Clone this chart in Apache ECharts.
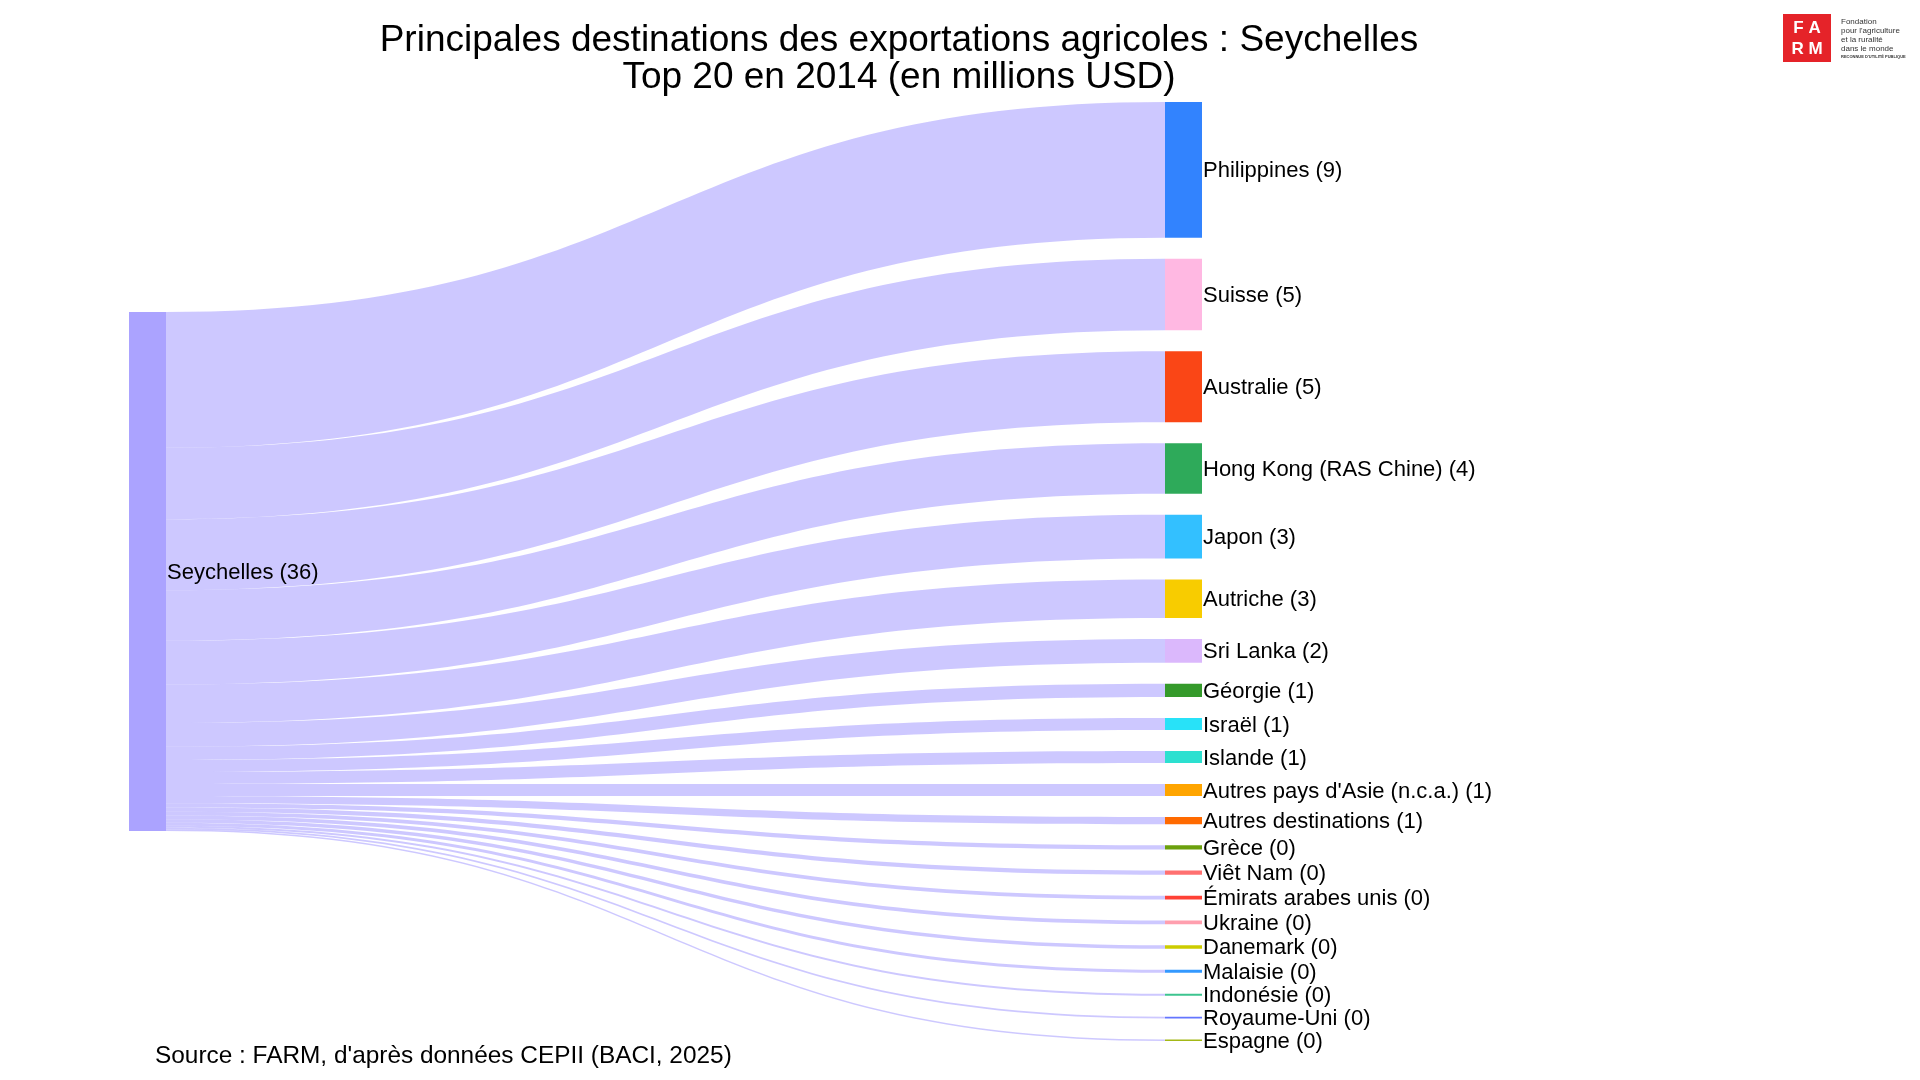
<!DOCTYPE html>
<html>
<head>
<meta charset="UTF-8">
<title>Principales destinations des exportations agricoles : Seychelles</title>
<script src="https://cdn.jsdelivr.net/npm/echarts@6/dist/echarts.min.js"></script>
<style>
    html, body { margin: 0; padding: 0; background: #fff; }
    #chart { width: 1920px; height: 1080px; }
</style>
</head>
<body>
<div id="chart"></div>
<script>
    // donnees (millions USD, 2014)
    var pays = 'Seychelles';
    var destinations = ['Philippines', 'Suisse', 'Australie', 'Hong Kong (RAS Chine)', 'Japon', 'Autriche',
        'Sri Lanka', 'Géorgie', 'Israël', 'Islande', "Autres pays d'Asie (n.c.a.)", 'Autres destinations',
        'Grèce', 'Viêt Nam', 'Émirats arabes unis', 'Ukraine', 'Danemark', 'Malaisie', 'Indonésie',
        'Royaume-Uni', 'Espagne'];
    var valeurs = [9.4, 4.95, 4.93, 3.5, 3.03, 2.66, 1.65, 0.92, 0.83, 0.83, 0.83, 0.5,
        0.30, 0.28, 0.27, 0.25, 0.24, 0.22, 0.13, 0.12, 0.11];
    var couleurs = ['#3283fe', '#ffb8e2', '#fa4616', '#2eaa5a', '#33c0ff', '#f8cc00',
        '#dbb8fc', '#359a2b', '#28e2f8', '#2ce0d0', '#ffa500', '#ff6a00',
        '#6ba00d', '#ff7070', '#ff4136', '#ff9fae', '#cccc00', '#3399ff', '#3dc48f',
        '#6476ff', '#a3b816'];
    var couleurPays = '#aba3ff';

    var haut = 102, bas = 39, ecart = 21;
    var hauteur = 1080 - haut - bas;

    var police = '"Liberation Sans", Arial, sans-serif';

    // le noeud source est centre verticalement
    var nodes = [{
        name: pays,
        localY: (destinations.length - 1) * ecart / 2 / hauteur,
        itemStyle: {color: couleurPays}
    }];
    var links = [];
    for (var i = 0; i < destinations.length; i++) {
        nodes.push({name: destinations[i], itemStyle: {color: couleurs[i]}});
        links.push({source: pays, target: destinations[i], value: valeurs[i]});
    }

    var myChart = echarts.init(document.getElementById('chart'));
    var option = {
        backgroundColor: '#fff',
        animation: false,
        graphic: [
            {type: 'text', x: 899, y: 41, style: {text: 'Principales destinations des exportations agricoles : Seychelles', font: '37px ' + police, fill: '#000', textAlign: 'center', textVerticalAlign: 'middle'}},
            {type: 'text', x: 899, y: 78, style: {text: 'Top 20 en 2014 (en millions USD)', font: '37px ' + police, fill: '#000', textAlign: 'center', textVerticalAlign: 'middle'}},
            {type: 'text', x: 155, y: 1056, style: {text: "Source : FARM, d'après données CEPII (BACI, 2025)", font: '24.4px ' + police, fill: '#000', textVerticalAlign: 'middle'}},
            // logo FARM
            {type: 'rect', shape: {x: 1783, y: 14, width: 48, height: 48}, style: {fill: '#e52329'}},
            {type: 'text', x: 1807, y: 28, style: {text: 'F A', font: 'bold 17px ' + police, fill: '#fff', textAlign: 'center', textVerticalAlign: 'middle'}},
            {type: 'text', x: 1807, y: 49, style: {text: 'R M', font: 'bold 17px ' + police, fill: '#fff', textAlign: 'center', textVerticalAlign: 'middle'}},
            {type: 'text', x: 1841, y: 22, style: {text: 'Fondation', font: '8px ' + police, fill: '#333', textVerticalAlign: 'middle'}},
            {type: 'text', x: 1841, y: 31, style: {text: "pour l'agriculture", font: '8px ' + police, fill: '#333', textVerticalAlign: 'middle'}},
            {type: 'text', x: 1841, y: 40, style: {text: 'et la ruralité', font: '8px ' + police, fill: '#333', textVerticalAlign: 'middle'}},
            {type: 'text', x: 1841, y: 49, style: {text: 'dans le monde', font: '8px ' + police, fill: '#333', textVerticalAlign: 'middle'}},
            {type: 'text', x: 1841, y: 57, style: {text: "RECONNUE D'UTILITÉ PUBLIQUE", font: 'bold 4px ' + police, fill: '#333', textVerticalAlign: 'middle'}}
        ],
        series: [{
            type: 'sankey',
            left: 129,
            right: 1920 - 1202,
            top: haut,
            bottom: bas,
            nodeWidth: 37,
            nodeGap: ecart,
            layoutIterations: 0,
            draggable: false,
            emphasis: {disabled: true},
            data: nodes,
            links: links,
            itemStyle: {borderWidth: 0},
            lineStyle: {color: 'source', opacity: 0.6, curveness: 0.5},
            label: {
                show: true,
                position: 'right',
                distance: 1,
                offset: [0, 1.5],
                color: '#000',
                fontSize: 22,
                fontFamily: police,
                formatter: function (p) {
                    return p.name + ' (' + Math.round(p.value) + ')';
                }
            }
        }]
    };
    myChart.setOption(option);
</script>
</body>
</html>
